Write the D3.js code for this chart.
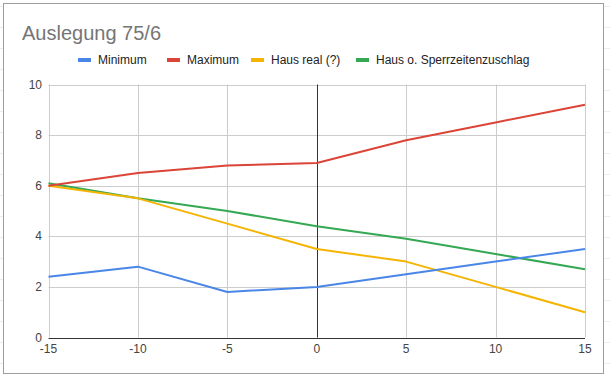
<!DOCTYPE html>
<html>
<head>
<meta charset="utf-8">
<script src="https://cdn.jsdelivr.net/npm/d3@7"></script>
<style>
  body { margin: 0; background: #fff; }
  svg { display: block; font-family: Arial, "Liberation Sans", sans-serif; }
</style>
</head>
<body>
<div id="viz"></div>
<script>
const xValues = [-15, -10, -5, 0, 5, 10, 15];
const seriesNames = ['Minimum', 'Maximum', 'Haus real (?)', 'Haus o. Sperrzeitenzuschlag'];
const minimum = [2.4, 2.8, 1.8, 2.0, 2.5, 3.0, 3.5];
const maximum = [6.0, 6.5, 6.8, 6.9, 7.8, 8.5, 9.2];
const hausReal = [6.0, 5.5, 4.5, 3.5, 3.0, 2.0, 1.0];
const hausOhne = [6.1, 5.5, 5.0, 4.4, 3.9, 3.3, 2.7];
const colors = ['#4a86e8', '#db4437', '#f4b400', '#34a853'];
const xTicks = [-15, -10, -5, 0, 5, 10, 15];
const yTicks = [0, 2, 4, 6, 8, 10];

const width = 610;
const height = 378;

const svg = d3.select('#viz')
  .append('svg')
  .attr('width', width)
  .attr('height', height);

// spreadsheet grid behind the chart
const sheetRows = d3.range(6, height, 21);
svg.selectAll('.sheetRow')
  .data(sheetRows)
  .enter().append('line')
  .attr('x1', 0).attr('x2', width)
  .attr('y1', d => d + 0.5).attr('y2', d => d + 0.5)
  .attr('stroke', '#ececec');

// chart box
svg.append('rect')
  .attr('x', 3.5)
  .attr('y', 3.5)
  .attr('width', 600)
  .attr('height', 370)
  .attr('fill', '#fff')
  .attr('stroke', '#9e9e9e');

const x = d3.scaleLinear().domain([-15, 15]).range([48.5, 585]);
const y = d3.scaleLinear().domain([0, 10]).range([337.5, 84.5]);

// gridlines
svg.append('g')
  .selectAll('line')
  .data(yTicks.filter(d => d !== 0))
  .enter().append('line')
  .attr('x1', x(-15)).attr('x2', x(15))
  .attr('y1', d => Math.round(y(d)) + 0.5).attr('y2', d => Math.round(y(d)) + 0.5)
  .attr('stroke', '#cccccc');

svg.append('g')
  .selectAll('line')
  .data(xTicks.filter(d => d !== 0))
  .enter().append('line')
  .attr('x1', d => Math.round(x(d)) + 0.5).attr('x2', d => Math.round(x(d)) + 0.5)
  .attr('y1', y(10)).attr('y2', y(0))
  .attr('stroke', '#cccccc');

// zero lines
svg.append('line')
  .attr('x1', Math.round(x(0)) + 0.5).attr('x2', Math.round(x(0)) + 0.5)
  .attr('y1', y(10)).attr('y2', y(0))
  .attr('stroke', '#333');

svg.append('line')
  .attr('x1', x(-15)).attr('x2', x(15))
  .attr('y1', Math.round(y(0)) + 0.5).attr('y2', Math.round(y(0)) + 0.5)
  .attr('stroke', '#333');

// axis labels
svg.append('g')
  .selectAll('text')
  .data(yTicks)
  .enter().append('text')
  .attr('x', 42)
  .attr('y', d => y(d) + 4)
  .attr('text-anchor', 'end')
  .attr('font-size', '12px')
  .attr('fill', '#444')
  .text(d => d);

svg.append('g')
  .selectAll('text')
  .data(xTicks)
  .enter().append('text')
  .attr('x', d => x(d))
  .attr('y', 353)
  .attr('text-anchor', 'middle')
  .attr('font-size', '12px')
  .attr('fill', '#444')
  .text(d => d);

// lines
const series = [minimum, maximum, hausReal, hausOhne];
const line = d3.line()
  .x((d, i) => x(xValues[i]))
  .y(d => y(d));

// draw order: green, yellow, red, blue on top
[3, 2, 1, 0].forEach(k => {
  svg.append('path')
    .datum(series[k])
    .attr('d', line)
    .attr('fill', 'none')
    .attr('stroke', colors[k])
    .attr('stroke-width', 2)
    .attr('stroke-linejoin', 'round');
});

// TITLE
svg.append('text')
  .attr('x', 22)
  .attr('y', 40)
  .attr('font-size', '20px')
  .attr('fill', '#757575')
  .text('Auslegung 75/6');

// LEGEND
const legendX = [78, 167, 251, 356];
const legend = svg.append('g');
seriesNames.forEach((name, i) => {
  legend.append('rect')
    .attr('x', legendX[i])
    .attr('y', 58)
    .attr('width', 13)
    .attr('height', 4)
    .attr('fill', colors[i]);
  legend.append('text')
    .attr('x', legendX[i] + 20)
    .attr('y', 64)
    .attr('font-size', '12px')
    .attr('fill', '#222')
    .text(name);
});
</script>
</body>
</html>
